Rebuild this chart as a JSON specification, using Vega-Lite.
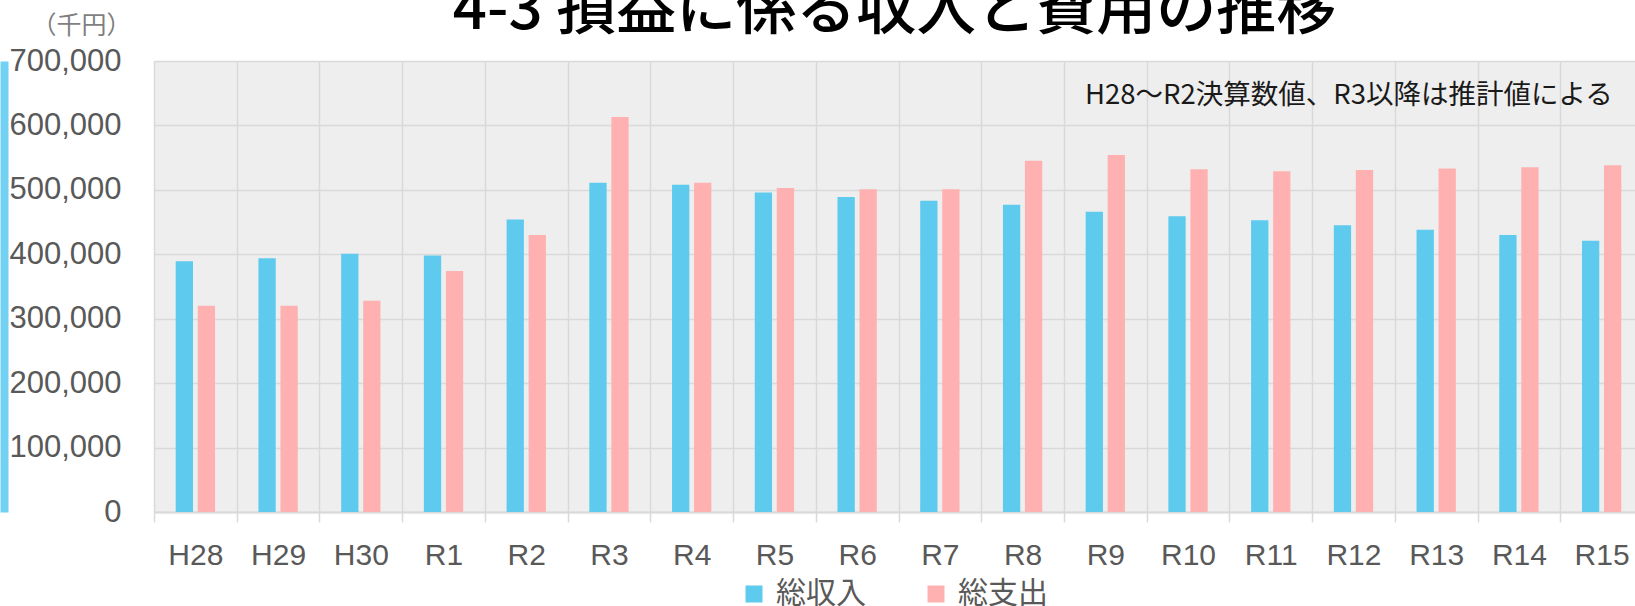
{
  "$schema": "https://vega.github.io/schema/vega-lite/v6.json",
  "width": 1481,
  "height": 451,
  "autosize": {"type": "none"},
  "padding": {"left": 154, "top": 61, "right": 0, "bottom": 94},
  "background": "#ffffff",
  "title": {
    "text": "4-3 損益に係る収入と費用の推移",
    "font": "Noto Sans CJK JP",
    "fontSize": 60,
    "fontWeight": 500,
    "color": "#000000",
    "anchor": "middle",
    "dy": 33
  },
  "config": {
    "view": {"stroke": null, "fill": "#eeeeee"}
  },
  "resolve": {"axis": {"y": "independent"}},
  "encoding": {
    "x": {
      "field": "year",
      "type": "nominal",
      "scale": {
        "domain": ["H28","H29","H30","R1","R2","R3","R4","R5","R6","R7","R8","R9","R10","R11","R12","R13","R14","R15"],
        "range": [0, 1489],
        "paddingInner": 0,
        "paddingOuter": 0
      },
      "axis": {
        "title": null,
        "labelAngle": 0,
        "labelFont": "Liberation Sans",
        "labelFontSize": 30,
        "labelColor": "#595959",
        "labelPadding": 18,
        "ticks": true,
        "tickSize": 10,
        "tickColor": "#d9d9d9",
        "tickWidth": 1.5,
        "tickBand": "extent",
        "grid": true,
        "gridColor": "#d9d9d9",
        "gridWidth": 1.5,
        "domainColor": "#d9d9d9",
        "domainWidth": 2
      }
    }
  },
  "layer": [
    {
      "data": {
        "values": [
          {"year": "H28", "series": "総収入", "value": 389000},
          {"year": "H28", "series": "総支出", "value": 320000},
          {"year": "H29", "series": "総収入", "value": 394000},
          {"year": "H29", "series": "総支出", "value": 320000},
          {"year": "H30", "series": "総収入", "value": 401000},
          {"year": "H30", "series": "総支出", "value": 328000},
          {"year": "R1", "series": "総収入", "value": 398000},
          {"year": "R1", "series": "総支出", "value": 374000},
          {"year": "R2", "series": "総収入", "value": 454000},
          {"year": "R2", "series": "総支出", "value": 430000},
          {"year": "R3", "series": "総収入", "value": 511000},
          {"year": "R3", "series": "総支出", "value": 613000},
          {"year": "R4", "series": "総収入", "value": 508000},
          {"year": "R4", "series": "総支出", "value": 511000},
          {"year": "R5", "series": "総収入", "value": 496000},
          {"year": "R5", "series": "総支出", "value": 503000},
          {"year": "R6", "series": "総収入", "value": 489000},
          {"year": "R6", "series": "総支出", "value": 501000},
          {"year": "R7", "series": "総収入", "value": 483000},
          {"year": "R7", "series": "総支出", "value": 501000},
          {"year": "R8", "series": "総収入", "value": 477000},
          {"year": "R8", "series": "総支出", "value": 545000},
          {"year": "R9", "series": "総収入", "value": 466000},
          {"year": "R9", "series": "総支出", "value": 554000},
          {"year": "R10", "series": "総収入", "value": 459000},
          {"year": "R10", "series": "総支出", "value": 532000},
          {"year": "R11", "series": "総収入", "value": 453000},
          {"year": "R11", "series": "総支出", "value": 529000},
          {"year": "R12", "series": "総収入", "value": 445000},
          {"year": "R12", "series": "総支出", "value": 531000},
          {"year": "R13", "series": "総収入", "value": 438000},
          {"year": "R13", "series": "総支出", "value": 533000},
          {"year": "R14", "series": "総収入", "value": 430000},
          {"year": "R14", "series": "総支出", "value": 535000},
          {"year": "R15", "series": "総収入", "value": 421000},
          {"year": "R15", "series": "総支出", "value": 538000}
        ]
      },
      "mark": {"type": "bar"},
      "encoding": {
        "y": {
          "field": "value",
          "type": "quantitative",
          "scale": {"domain": [0, 700000], "nice": false, "zero": true},
          "axis": {
            "values": [0, 100000, 200000, 300000, 400000, 500000, 600000, 700000],
            "format": ",d",
            "labelFont": "Liberation Sans",
            "labelFontSize": 31,
            "labelColor": "#595959",
            "labelPadding": 33,
            "ticks": false,
            "tickSize": 0,
            "domain": false,
            "grid": true,
            "gridColor": "#d9d9d9",
            "gridWidth": 1.5,
            "title": "（千円）",
            "titleAngle": 0,
            "titleAlign": "center",
            "titleBaseline": "alphabetic",
            "titleX": -73,
            "titleY": -28,
            "titleFont": "Noto Sans CJK JP",
            "titleFontSize": 25,
            "titleFontWeight": "normal",
            "titleColor": "#7f7f7f"
          }
        },
        "xOffset": {
          "field": "series",
          "type": "nominal",
          "scale": {"domain": ["総収入", "総支出"], "paddingInner": 0.214, "paddingOuter": 0.986}
        },
        "color": {
          "field": "series",
          "type": "nominal",
          "scale": {"domain": ["総収入", "総支出"], "range": ["#5ecbee", "#ffb1b1"]},
          "legend": {
            "title": null,
            "orient": "none",
            "direction": "horizontal",
            "legendX": 585,
            "legendY": 518,
            "symbolType": "square",
            "symbolSize": 289,
            "symbolStrokeWidth": 0,
            "symbolOpacity": 1,
            "labelFont": "Noto Sans CJK JP",
            "labelFontSize": 30,
            "labelColor": "#595959",
            "labelOffset": 7,
            "columnPadding": 55,
            "labelLimit": 300
          }
        }
      }
    },
    {
      "data": {
        "values": [
          {"year": "R15", "value": 650000, "note": "H28～R2決算数値、R3以降は推計値による"}
        ]
      },
      "mark": {
        "type": "text",
        "align": "right",
        "baseline": "middle",
        "dx": 11,
        "dy": 3,
        "font": "Noto Sans CJK JP",
        "fontSize": 27.5,
        "color": "#1a1a1a"
      },
      "encoding": {
        "y": {
          "field": "value",
          "type": "quantitative",
          "axis": {
            "orient": "left",
            "offset": 150,
            "title": null,
            "labels": false,
            "ticks": false,
            "grid": false,
            "domain": true,
            "domainColor": "#72d0f2",
            "domainWidth": 8
          }
        },
        "text": {"field": "note"}
      }
    }
  ]
}
